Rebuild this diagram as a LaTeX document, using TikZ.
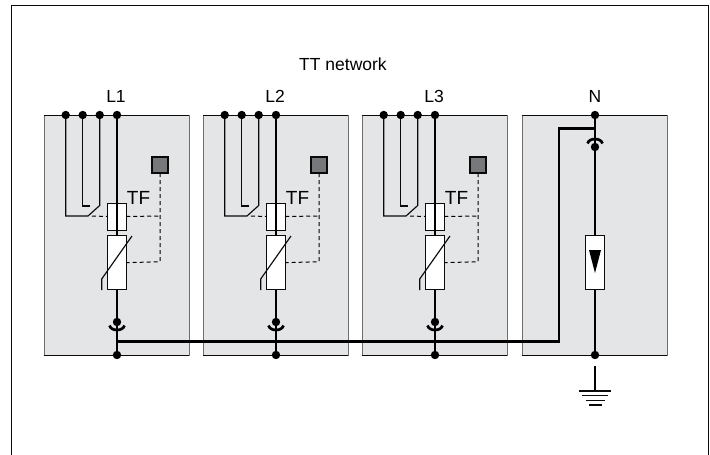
\documentclass[tikz,border=0pt]{standalone}
\usepackage{fontspec}
\setmainfont{Liberation Sans}
\definecolor{panelfill}{HTML}{E4E5E7}
\definecolor{panelline}{HTML}{6E6E70}
\definecolor{sqfill}{HTML}{77787B}
\definecolor{inkc}{HTML}{0A0A0A}
\tikzset{
  panel/.style={draw=panelline,fill=panelfill,line width=1pt,minimum width=145pt,minimum height=240pt,inner sep=0pt,outer sep=0pt,anchor=north west},
  edgeline/.style={draw=inkc,line width=1pt},
  dotn/.style={circle,fill=black,inner sep=0pt,outer sep=0pt,minimum size=8.4pt},
  comp/.style={draw=inkc,fill=white,line width=1pt,inner sep=0pt,outer sep=0pt,minimum width=18.5pt},
  lab/.style={font=\fontsize{17.5}{17.5}\selectfont,text=black,inner sep=0pt},
  tflab/.style={font=\fontsize{19}{19}\selectfont,text=black,inner sep=0pt},
  thin wire/.style={draw=inkc,line width=1.15pt},
  heavy/.style={draw=black,line width=2.7pt},
  dashw/.style={draw=black,line width=1pt,dash pattern=on 4pt off 3pt},
  sq/.style={draw=inkc,fill=sqfill,line width=1.1pt,minimum size=16pt,inner sep=0pt,outer sep=0pt},
  socketarc/.style={draw=black,line width=2.7pt},
}
\begin{document}
\begin{tikzpicture}[x=1pt,y=-1pt]
\useasboundingbox (0,0) rectangle (710,455);
\coordinate (fa) at (11,455); \coordinate (fb) at (11,5.5);
\coordinate (fc) at (708,5.5); \coordinate (fd) at (708,455);
\draw[draw=inkc,line width=1pt] (fa) -- (fb) -- (fc) -- (fd);
\node[lab,anchor=base] (title) at (343,70) {TT network};
\foreach \n/\o in {1/0,2/159,3/318}{
  \begin{scope}[shift={(\o,0)}]
    \node[panel] (p\n) at (44,115) {};
    \draw[edgeline] (p\n.north west) -- (p\n.north east);
    \draw[edgeline] (p\n.south west) -- (p\n.south east);
    \node[lab,anchor=base] (l\n) at (116,102) {L\n};
    \node[tflab,anchor=base] (tf\n) at (138.5,204) {TF};
    \node[sq] (s\n) at (160,165) {};
    \node[comp,minimum height=27pt] (f\n) at (117,216.5) {};
    \node[comp,minimum height=54pt] (v\n) at (117,262.7) {};
    \node[dotn] (a\n) at (65.7,115) {};
    \node[dotn] (b\n) at (82.7,115) {};
    \node[dotn] (c\n) at (99.7,115) {};
    \node[dotn] (d\n) at (117,115) {};
    \node[dotn] (e\n) at (117,322) {};
    \node[dotn] (g\n) at (117,355) {};
    \coordinate (sa\n) at (65.7,216); \coordinate (sb\n) at (88,216);
    \coordinate (sc\n) at (99.7,205.5); \coordinate (sd\n) at (82.7,206);
    \coordinate (se\n) at (90,206);
    \coordinate (da\n) at (92,216); \coordinate (db\n) at (160,216);
    \coordinate (dc\n) at (160,261.7);
    \coordinate (va\n) at (101.7,290); \coordinate (vb\n) at (101.7,279);
    \coordinate (vc\n) at (132,236);
    \coordinate (ca\n) at (109.5,325.5); \coordinate (cb\n) at (124.5,325.5);
    \draw[thin wire] (a\n) -- (sa\n) -- (sb\n) -- (sc\n) -- (c\n);
    \draw[thin wire] (b\n) -- (sd\n) -- (se\n);
    \draw[dashw] (da\n) -- (f\n.west);
    \draw[dashw] (f\n.east) -- (db\n);
    \draw[dashw] (s\n) -- (dc\n) -- (v\n.east);
    \draw[heavy] (d\n) -- (f\n.north);
    \draw[heavy] (f\n) -- (v\n);
    \draw[heavy,line width=2pt] (f\n.north) -- (f\n.south);
    \draw[heavy] (v\n) -- (e\n);
    \draw[heavy] (e\n) -- (g\n);
    \draw[thin wire] (va\n) -- (vb\n) -- (vc\n);
    \draw[socketarc] (ca\n) .. controls (111,331.5) and (123,331.5) .. (cb\n);
  \end{scope}
}
\node[panel] (p4) at (522,115) {};
\draw[edgeline] (p4.north west) -- (p4.north east);
\draw[edgeline] (p4.south west) -- (p4.south east);
\node[lab,anchor=base] (ln) at (595,102) {N};
\node[dotn] (nt) at (595,115) {};
\node[dotn] (nm) at (595,147) {};
\node[dotn] (nb) at (595,355) {};
\node[comp,minimum height=54pt] (gd) at (595,262.7) {};
\coordinate (ra) at (559,341.7); \coordinate (rb) at (559,128.3);
\coordinate (rc) at (595,128.3); \coordinate (rj) at (117,341.7);
\coordinate (ea) at (595,366); \coordinate (eb) at (595,391);
\draw[heavy] (nt) -- (nm);
\draw[heavy] (nm) -- (gd);
\draw[heavy] (gd) -- (nb);
\draw[heavy] (rj) -- (ra) -- (rb) -- (rc);
\draw[socketarc] (587.5,143.5) .. controls (589,137.5) and (601,137.5) .. (602.5,143.5);
\fill[black] (589,250) -- (601,250) -- (595,273) -- cycle;
\draw[heavy] (ea) -- (eb);
\draw[draw=inkc,line width=1.3pt] (579,391) -- (611,391);
\draw[draw=inkc,line width=1.3pt] (582,395.5) -- (608,395.5);
\draw[draw=inkc,line width=1.3pt] (586,400.5) -- (605,400.5);
\draw[draw=inkc,line width=1.3pt] (589,405) -- (602,405);
\end{tikzpicture}
\end{document}
